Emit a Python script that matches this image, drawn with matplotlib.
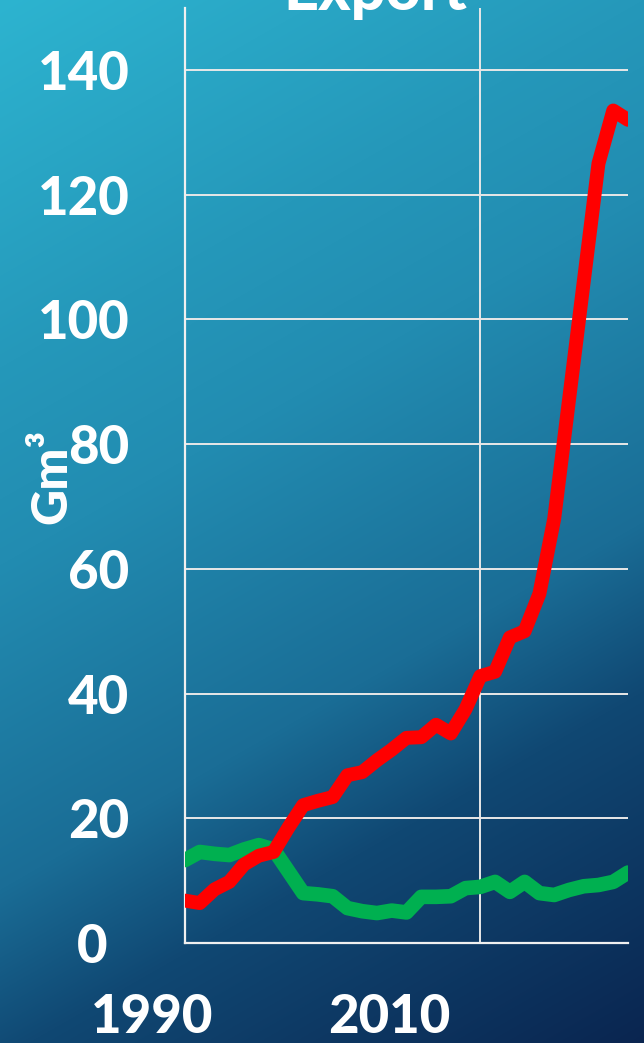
import numpy as np
import matplotlib
matplotlib.use("Agg")
import matplotlib.pyplot as plt
import matplotlib.transforms as mtransforms

# ---- data ----
years = list(range(1990, 2021))
red_values = [6.8, 6.4, 8.6, 9.8, 12.6, 14.0, 14.6, 18.5, 22.1, 22.8, 23.4,
              26.9, 27.4, 29.3, 31.0, 32.9, 33.0, 35.0, 33.6, 37.5, 42.8,
              43.5, 49.0, 50.0, 56.0, 68.0, 87.0, 106.0, 125.0, 133.5, 132.0]
green_values = [13.3, 14.6, 14.3, 14.1, 15.0, 15.7, 15.0, 11.5, 8.0, 7.8, 7.5,
                5.6, 5.1, 4.8, 5.2, 4.9, 7.4, 7.4, 7.5, 8.8, 9.0,
                9.8, 8.2, 9.8, 8.0, 7.7, 8.5, 9.1, 9.3, 9.8, 11.3]
y_ticks = [0, 20, 40, 60, 80, 100, 120, 140]
x_ticks = [1990, 2010]
x_tick_labels = ["1990", "2010"]
title_text = "Export"
y_label = "Gm³"

FONT = ["Lato", "DejaVu Sans"]
plt.rcParams["font.family"] = FONT

W, H = 644, 1043
fig = plt.figure(figsize=(W / 100, H / 100), dpi=100)

# background gradient
bg = fig.add_axes([0, 0, 1, 1], zorder=-10)
bg.axis("off")
yy, xx = np.mgrid[0:H, 0:W]
t = (0.85 * yy / H + 0.3 * xx / W) / 1.15
stops = [0, 0.26, 0.4, 0.63, 0.75, 1.0]
cols = np.array([(45, 180, 208), (37, 152, 186), (34, 140, 177),
                 (26, 109, 150), (16, 72, 115), (10, 37, 80)]) / 255.0
img = np.stack([np.interp(t, stops, cols[:, i]) for i in range(3)], axis=-1)
bg.imshow(img, aspect="auto", extent=[0, 1, 0, 1])
bg.set_xlim(0, 1)
bg.set_ylim(0, 1)

ax = fig.add_axes([185 / W, 100 / H, 443 / W, 935.4 / H])
ax.patch.set_alpha(0)
ax.set_xlim(1990, 2020)
ax.set_ylim(0, 150)

ax.plot(years, green_values, color="#00b050", lw=10.5, solid_capstyle="round",
        solid_joinstyle="round", zorder=3)
ax.plot(years, red_values, color="#ff0000", lw=10, solid_capstyle="round",
        solid_joinstyle="round", zorder=4)

ax.set_yticks(y_ticks)
ax.set_xticks(x_ticks)
ax.set_xticklabels(x_tick_labels)
ax.grid(True, color="#e8e8e8", lw=1.4, zorder=1)
ax.set_axisbelow(True)
for s in ["top", "right"]:
    ax.spines[s].set_visible(False)
for s in ["left", "bottom"]:
    ax.spines[s].set_color("#f0f0f0")
    ax.spines[s].set_linewidth(1.6)

ax.tick_params(axis="both", length=0, labelcolor="white", labelsize=38)
ax.tick_params(axis="y", pad=40)
ax.tick_params(axis="x", pad=36)
for lab in ax.get_yticklabels() + ax.get_xticklabels():
    lab.set_fontweight("black")

# label offsets as in the reference
xoffs = [-33, -91]
for lab, dx in zip(ax.get_xticklabels(), xoffs):
    lab.set_transform(lab.get_transform() +
                      mtransforms.ScaledTranslation(dx / 100, 0, fig.dpi_scale_trans))
ylabs = ax.get_yticklabels()
ylabs[0].set_transform(ylabs[0].get_transform() +
                       mtransforms.ScaledTranslation(-22 / 100, 0, fig.dpi_scale_trans))

fig.text(375 / W, 1 - 10 / H, title_text, color="white", fontsize=44,
         fontweight="black", ha="center", va="baseline")
fig.text(52 / W, 1 - 476 / H, y_label, color="white", fontsize=36,
         fontweight="black", rotation=90, ha="center", va="center")

fig.savefig("out.png", dpi=100)
